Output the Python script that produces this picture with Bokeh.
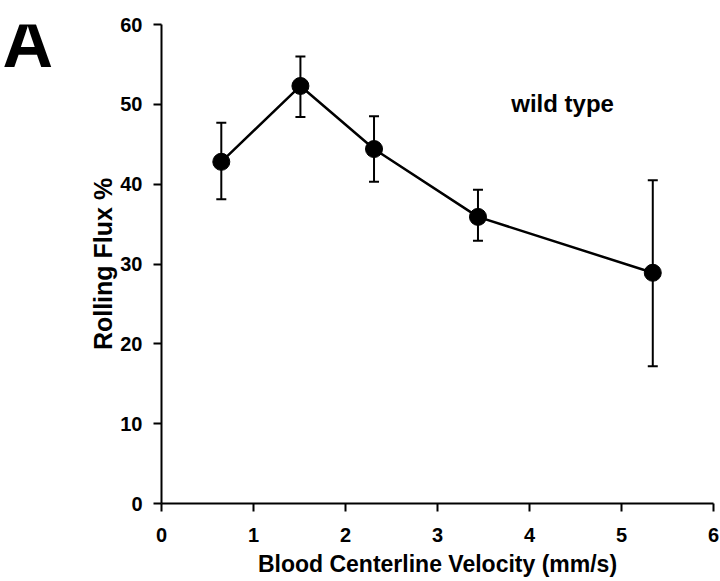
from bokeh.plotting import figure
from bokeh.layouts import row
from bokeh.models import Whisker, TeeHead, ColumnDataSource, Label, FixedTicker, Range1d
from bokeh.core.properties import value
from bokeh.embed import file_html
from bokeh.resources import INLINE

# data
velocity = [0.65, 1.51, 2.31, 3.44, 5.34]
flux = [42.8, 52.3, 44.4, 35.9, 28.9]
flux_upper = [47.7, 56.0, 48.5, 39.3, 40.5]
flux_lower = [38.1, 48.4, 40.3, 32.9, 17.2]
x_ticks = [0, 1, 2, 3, 4, 5, 6]
y_ticks = [0, 10, 20, 30, 40, 50, 60]
panel_letter = "A"
series_name = "wild type"

FONT = "Liberation Sans"

src = ColumnDataSource(dict(x=velocity, y=flux, upper=flux_upper, lower=flux_lower))

# narrow left panel holding the panel letter
pa = figure(width=60, height=581, output_backend="svg", toolbar_location=None,
            x_range=Range1d(0, 60), y_range=Range1d(581, 0),
            x_axis_location=None, y_axis_location=None,
            min_border_left=0, min_border_right=0, min_border_top=0, min_border_bottom=0)
pa.title = None
pa.outline_line_color = None
pa.xgrid.visible = False
pa.ygrid.visible = False
pa.text(x=[2], y=[23], text=[panel_letter], text_font=value(FONT), text_font_style="bold",
        text_font_size="70px", text_align="left", text_baseline="alphabetic", text_color="black")

p = figure(width=660, height=581, output_backend="svg", toolbar_location=None,
           x_range=Range1d(0, 6), y_range=Range1d(0, 60),
           min_border_left=101, min_border_right=7, min_border_top=24, min_border_bottom=78)
p.outline_line_color = None
p.xgrid.visible = False
p.ygrid.visible = False
p.background_fill_color = "white"
p.border_fill_color = "white"

for ax in (p.xaxis[0], p.yaxis[0]):
    ax.axis_line_width = 2
    ax.axis_line_color = "black"
    ax.major_tick_line_width = 2
    ax.major_tick_line_color = "black"
    ax.major_tick_out = 8
    ax.major_tick_in = 0
    ax.minor_tick_line_color = None
    ax.major_label_text_font = FONT
    ax.major_label_text_font_style = "bold"
    ax.major_label_text_font_size = "20px"
    ax.major_label_text_color = "black"
    ax.axis_label_text_font = FONT
    ax.axis_label_text_font_style = "bold"
    ax.axis_label_text_color = "black"

p.xaxis[0].axis_label_text_font_size = "23px"
p.yaxis[0].axis_label_text_font_size = "25px"
p.xaxis[0].ticker = FixedTicker(ticks=x_ticks)
p.yaxis[0].ticker = FixedTicker(ticks=y_ticks)
p.xaxis[0].axis_label = "Blood Centerline Velocity (mm/s)"
p.yaxis[0].axis_label = "Rolling Flux %"
p.xaxis[0].major_label_standoff = 16
p.yaxis[0].major_label_standoff = 11
p.xaxis[0].axis_label_standoff = 6
p.yaxis[0].axis_label_standoff = 0

wh = Whisker(source=src, base="x", upper="upper", lower="lower",
             line_width=2, line_color="black",
             upper_head=TeeHead(size=10, line_width=2, line_color="black"),
             lower_head=TeeHead(size=10, line_width=2, line_color="black"))
p.add_layout(wh)

p.line("x", "y", source=src, line_width=2.5, line_color="black")
p.scatter("x", "y", source=src, size=17, fill_color="black", line_color="black")

p.add_layout(Label(x=4.36, y=50.1, text=series_name, text_align="center",
                   text_baseline="alphabetic", text_font=FONT, text_font_style="bold",
                   text_font_size="24px", text_color="black"))

layout = row(pa, p)
open("out.html", "w").write(file_html(layout, INLINE))
